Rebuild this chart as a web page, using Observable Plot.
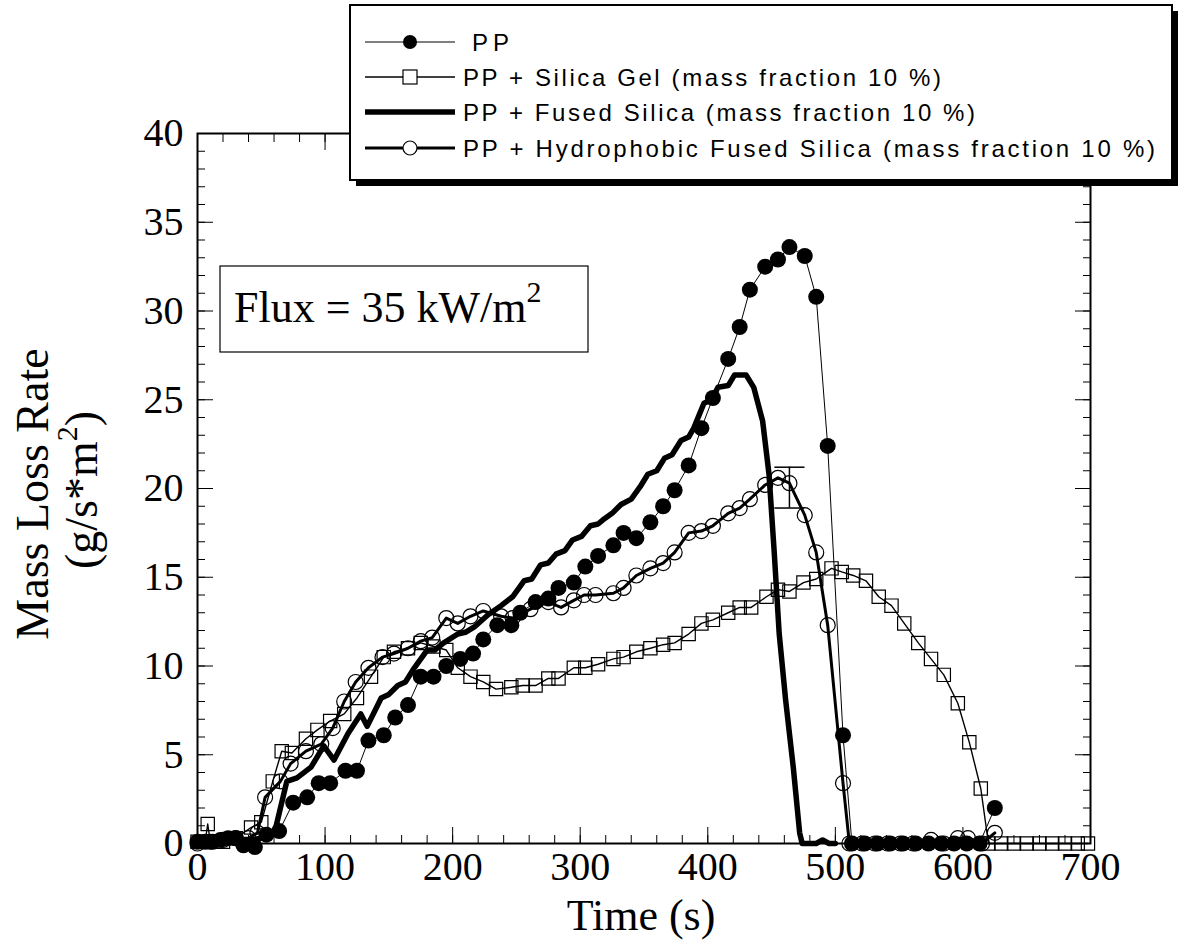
<!DOCTYPE html>
<html>
<head>
<meta charset="utf-8">
<script src="https://cdn.jsdelivr.net/npm/d3@7"></script>
<script src="https://cdn.jsdelivr.net/npm/@observablehq/plot@0.6"></script>
<style>
  body { margin: 0; background: white; }
</style>
</head>
<body>
<div id="chart"></div>
<script>
// ---------- data ----------
const xTicks = [0, 100, 200, 300, 400, 500, 600, 700];
const xMinor = d3.range(0, 701, 20);
const yTicks = [0, 5, 10, 15, 20, 25, 30, 35, 40];
const yMinor = d3.range(0, 41, 1);

const legendLabels = [
  "PP",
  "PP + Silica Gel (mass fraction 10 %)",
  "PP + Fused Silica (mass fraction 10 %)",
  "PP + Hydrophobic Fused Silica (mass fraction 10 %)"
];

// PP (filled circles)
const ppTime = [0,6,12,18,24,30,36,45,54,64,75,86,95,104,116,125,134,146,155,165,175,185,195,206,216,224,235,246,253,265,275,283,295,304,314,326,334,344,355,365,374,385,395,404,416,425,433,445,455,464,476,485,494,506,513,523,533,543,553,563,573,583,593,603,613,625];
const ppRate = [0.1,0.1,0.1,0.2,0.3,0.3,-0.1,-0.2,0.5,0.7,2.3,2.6,3.4,3.4,4.1,4.1,5.8,6.1,7.1,7.8,9.4,9.4,10.0,10.4,10.7,11.5,12.3,12.3,13.0,13.6,13.8,14.4,14.7,15.6,16.2,16.8,17.5,17.2,18.1,19.0,19.9,21.3,23.4,25.1,27.3,29.1,31.2,32.5,32.9,33.6,33.1,30.8,22.4,6.1,0,0,0,0,0,0,0,0,0,0,0,2.0];

// PP + Silica Gel (open squares)
const sgTime = [0,6,8,10,20,30,42,50,59,66,74,85,94,104,115,125,136,146,154,165,175,185,195,204,214,224,234,246,255,265,275,283,295,304,314,326,334,344,355,365,374,385,395,404,416,425,434,446,455,464,475,485,497,505,514,524,534,544,554,565,575,585,596,605,614,620,630,640,650,660,670,680,690,698];
const sgRate = [0.1,0.1,1.1,0.1,0.1,0.3,0.9,1.2,3.5,5.2,5.1,5.9,6.4,6.9,7.3,8.2,9.4,10.5,10.8,11.0,11.3,11.1,10.9,9.9,9.4,9.1,8.7,8.8,8.9,8.9,9.3,9.3,9.9,9.9,10.1,10.4,10.5,10.8,11.0,11.2,11.3,11.8,12.4,12.6,13.0,13.3,13.3,13.9,14.3,14.2,14.7,14.9,15.5,15.3,15.1,14.8,13.9,13.4,12.4,11.3,10.4,9.5,7.9,5.7,3.1,0,0,0,0,0,0,0,0,0];

// PP + Fused Silica (thick line, no markers)
const fsTime = [0,10,20,30,40,50,56,61,70,78,89,99,107,118,128,133,144,150,157,163,170,180,186,193,204,210,217,228,238,247,256,262,269,275,281,288,294,301,308,314,319,325,332,340,347,353,360,366,372,379,385,389,397,403,408,416,421,430,436,443,448,452,456,461,467,472,474,485,490,495,500];
const fsRate = [0.1,0.1,0.1,0.2,0.2,0.3,0.4,0.8,3.5,3.7,4.3,5.5,4.7,6.2,7.3,6.6,8.2,8.4,8.9,9.1,9.9,10.9,10.9,11.3,11.8,11.9,12.2,12.9,13.4,13.9,14.8,14.9,15.7,15.8,16.3,16.5,17.1,17.3,17.9,18.0,18.3,18.6,19.1,19.4,20.1,20.8,21.0,21.7,21.9,22.7,22.9,23.4,24.8,25.0,25.7,25.8,26.4,26.4,25.7,23.8,20.8,16.5,11.8,8.1,4.3,0.6,0,0,0.2,0,0];

// PP + Hydrophobic Fused Silica (open circles)
const hfTime = [0,10,20,30,40,47,53,65,73,85,97,106,115,124,134,145,154,165,175,184,195,204,214,224,238,247,261,275,285,295,303,312,326,334,344,355,365,374,385,395,404,416,425,433,445,455,464,476,485,494,506,511,521,531,541,551,561,575,585,596,604,615,625];
const hfRate = [0.0,0.1,0.2,0.3,0.3,0.6,2.6,3.5,4.5,5.2,5.6,6.5,8.0,9.1,9.9,10.5,10.7,11.0,11.4,11.6,12.7,12.4,12.8,13.1,12.8,12.7,13.2,13.6,13.3,13.7,14.0,14.0,14.1,14.4,15.1,15.5,15.8,16.4,17.5,17.6,17.9,18.6,18.9,19.4,20.2,20.6,20.3,18.5,16.4,12.3,3.4,0,0,0,0,0,0,0.2,0,0.3,0.3,0,0.6];

// error bar on the hydrophobic curve
const errTime = [464];
const errLow = [18.9];
const errHigh = [21.2];

// ---------- build ----------
const zip = (t, v) => t.map((d, i) => ({t: d, v: v[i]}));
const pp = zip(ppTime, ppRate);
const sg = zip(sgTime, sgRate);
const fs = zip(fsTime, fsRate);
const hf = zip(hfTime, hfRate);
const err = errTime.map((t, i) => ({t, lo: errLow[i], hi: errHigh[i]}));

const capSymbol = {
  draw(ctx, size) {
    const w = Math.sqrt(size);
    ctx.moveTo(-w, 0);
    ctx.lineTo(w, 0);
  }
};
const blank = () => "";
const tickFont = 40;

const chart = Plot.plot({
  width: 1195,
  height: 943,
  marginLeft: 197,
  marginRight: 105,
  marginTop: 133,
  marginBottom: 100,
  style: {fontFamily: "'Liberation Serif', 'Times New Roman', serif", background: "white", overflow: "visible"},
  x: {domain: [0, 700]},
  y: {domain: [0, 40]},
  marks: [
    // axes: labels
    Plot.axisX({ticks: xTicks, tickSize: 0, tickPadding: 8, fontSize: tickFont, label: null, tickFormat: d => String(d)}),
    Plot.axisY({ticks: yTicks, tickSize: 0, tickPadding: 14, fontSize: tickFont, label: null, tickFormat: d => String(d)}),
    // inward ticks on all four sides
    Plot.axisX({anchor: "bottom", ticks: xTicks, tickSize: -16, tickFormat: blank, label: null}),
    Plot.axisX({anchor: "bottom", ticks: xMinor, tickSize: -8, tickFormat: blank, label: null}),
    Plot.axisX({anchor: "top", ticks: xTicks, tickSize: -16, tickFormat: blank, label: null}),
    Plot.axisX({anchor: "top", ticks: xMinor, tickSize: -8, tickFormat: blank, label: null}),
    Plot.axisY({anchor: "left", ticks: yTicks, tickSize: -16, tickFormat: blank, label: null}),
    Plot.axisY({anchor: "left", ticks: yMinor, tickSize: -8, tickFormat: blank, label: null}),
    Plot.axisY({anchor: "right", ticks: yTicks, tickSize: -16, tickFormat: blank, label: null}),
    Plot.axisY({anchor: "right", ticks: yMinor, tickSize: -8, tickFormat: blank, label: null}),
    Plot.frame({stroke: "black", strokeWidth: 2}),

    // series
    Plot.line(sg, {x: "t", y: "v", stroke: "black", strokeWidth: 1.4}),
    Plot.dot(sg, {x: "t", y: "v", symbol: "square", r: 7.5, stroke: "black", fill: "none", strokeWidth: 1.2}),
    Plot.line(fs, {x: "t", y: "v", stroke: "black", strokeWidth: 5.5, strokeLinejoin: "round"}),
    Plot.line(hf, {x: "t", y: "v", stroke: "black", strokeWidth: 3}),
    Plot.dot(hf, {x: "t", y: "v", r: 7.5, stroke: "black", fill: "none", strokeWidth: 1.2}),
    Plot.line(pp, {x: "t", y: "v", stroke: "black", strokeWidth: 1}),
    Plot.dot(pp, {x: "t", y: "v", r: 8, fill: "black", stroke: "none"}),

    // error bar
    Plot.ruleX(err, {x: "t", y1: "lo", y2: "hi", stroke: "black", strokeWidth: 1.5}),
    Plot.dot(err, {x: "t", y: "lo", symbol: capSymbol, r: 8.5, stroke: "black", fill: "none", strokeWidth: 1.5}),
    Plot.dot(err, {x: "t", y: "hi", symbol: capSymbol, r: 8.5, stroke: "black", fill: "none", strokeWidth: 1.5})
  ]
});
document.getElementById("chart").appendChild(chart);

// ---------- annotations (titles, flux box, legend) ----------
const svg = d3.select(chart);
const serif = "'Liberation Serif', 'Times New Roman', serif";
const sans = "'Liberation Sans', Arial, Helvetica, sans-serif";

// y axis title
const yt = svg.append("g").attr("font-family", serif).attr("font-size", 46).attr("fill", "black");
yt.append("text").attr("transform", "translate(48,494) rotate(-90)").attr("text-anchor", "middle").text("Mass Loss Rate");
const yt2 = yt.append("text").attr("transform", "translate(97,490) rotate(-90)").attr("text-anchor", "middle");
yt2.append("tspan").text("(g/s*m");
yt2.append("tspan").attr("dy", -20).attr("font-size", 30).text("2");
yt2.append("tspan").attr("dy", 20).text(")");

// x axis title
svg.append("text").attr("x", 641).attr("y", 930).attr("text-anchor", "middle")
  .attr("font-family", serif).attr("font-size", 44).text("Time (s)");

// flux box
svg.append("rect").attr("x", 220).attr("y", 266).attr("width", 368).attr("height", 86)
  .attr("fill", "white").attr("stroke", "black").attr("stroke-width", 1.2);
const ft = svg.append("text").attr("x", 234).attr("y", 322).attr("text-anchor", "start")
  .attr("font-family", serif).attr("font-size", 44);
ft.append("tspan").text("Flux = 35 kW/m");
ft.append("tspan").attr("dy", -20).attr("font-size", 30).text("2");

// legend
const lg = svg.append("g");
lg.append("rect").attr("x", 356).attr("y", 11).attr("width", 822).attr("height", 175).attr("fill", "black");
lg.append("rect").attr("x", 350).attr("y", 5).attr("width", 822).attr("height", 175)
  .attr("fill", "white").attr("stroke", "black").attr("stroke-width", 2);
const rowsY = [42, 77, 112, 148];
const lineW = [1, 1.4, 5.5, 3];
const textX = [472, 463, 463, 463];
const textLen = [37, 478, 512, 692];
legendLabels.forEach((lab, i) => {
  const y = rowsY[i];
  lg.append("line").attr("x1", 365).attr("x2", 455).attr("y1", y).attr("y2", y)
    .attr("stroke", "black").attr("stroke-width", lineW[i]);
  if (i === 0) lg.append("circle").attr("cx", 410).attr("cy", y).attr("r", 7).attr("fill", "black");
  if (i === 1) lg.append("rect").attr("x", 403).attr("y", y - 7).attr("width", 14).attr("height", 14)
    .attr("fill", "white").attr("stroke", "black").attr("stroke-width", 1.2);
  if (i === 3) lg.append("circle").attr("cx", 410).attr("cy", y).attr("r", 7)
    .attr("fill", "white").attr("stroke", "black").attr("stroke-width", 1.2);
  lg.append("text").attr("x", textX[i]).attr("y", y + 9).attr("text-anchor", "start")
    .attr("font-family", sans).attr("font-size", 24)
    .attr("textLength", textLen[i]).attr("lengthAdjust", "spacing").text(lab);
});
</script>
</body>
</html>
